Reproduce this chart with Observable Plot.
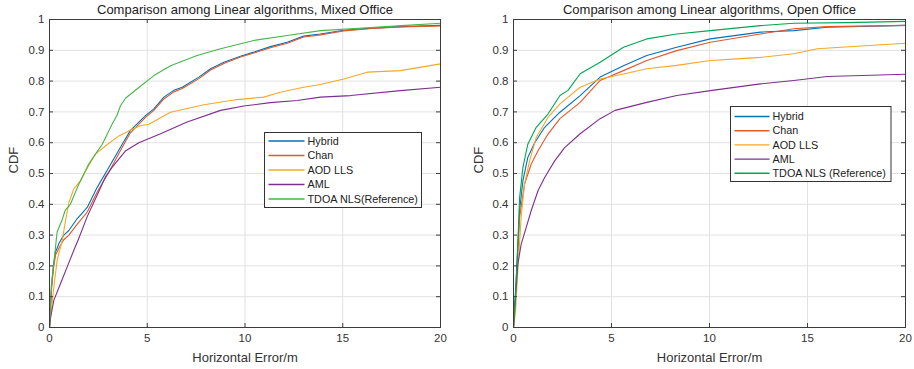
<!DOCTYPE html>
<html>
<head>
<meta charset="utf-8">
<script src="https://cdn.jsdelivr.net/npm/d3@7"></script>
<script src="https://cdn.jsdelivr.net/npm/@observablehq/plot@0.6"></script>
<style>
  html, body { margin: 0; padding: 0; background: #fff; }
  #wrap { display: flex; width: 914px; height: 369px; }
</style>
</head>
<body>
<div id="wrap"></div>
<script>
// ---------- tick values ----------
const xTicks = [0, 5, 10, 15, 20];
const yTicks = [0, 0.1, 0.2, 0.3, 0.4, 0.5, 0.6, 0.7, 0.8, 0.9, 1];

// ---------- Mixed Office (left) ----------
const mixedTitle = "Comparison among Linear algorithms, Mixed Office";
const mixedNames = ["Hybrid", "Chan", "AOD LLS", "AML", "TDOA NLS(Reference)"];

const mixedHybridX = [0, 0.1, 0.2, 0.31, 0.5, 0.73, 0.99, 1.41, 1.93, 2.44, 3.04, 3.72, 4.14, 4.91, 5.34, 5.85, 6.36, 6.79, 7.64, 8.24, 8.92, 9.77, 10.45, 11.3, 12.16, 13.0, 13.86, 15.05, 16.5, 18, 20];
const mixedHybridY = [0, 0.13, 0.2, 0.245, 0.275, 0.30, 0.315, 0.353, 0.39, 0.455, 0.52, 0.595, 0.64, 0.688, 0.71, 0.748, 0.77, 0.78, 0.813, 0.84, 0.861, 0.881, 0.894, 0.912, 0.926, 0.946, 0.953, 0.965, 0.972, 0.977, 0.981];
const mixedChanX = mixedHybridX;
const mixedChanY = [0, 0.12, 0.19, 0.235, 0.26, 0.285, 0.30, 0.335, 0.375, 0.44, 0.505, 0.585, 0.632, 0.682, 0.705, 0.742, 0.765, 0.776, 0.808, 0.836, 0.857, 0.878, 0.891, 0.908, 0.923, 0.943, 0.95, 0.963, 0.971, 0.976, 0.979];
const mixedAodX = [0, 0.1, 0.22, 0.39, 0.65, 0.82, 0.99, 1.24, 1.59, 2.0, 2.35, 2.87, 3.55, 4.23, 4.65, 5.08, 6.19, 7.9, 9.6, 10.96, 11.8, 13.0, 13.86, 15.05, 16.25, 17.95, 20];
const mixedAodY = [0, 0.06, 0.13, 0.218, 0.282, 0.347, 0.405, 0.45, 0.477, 0.525, 0.563, 0.59, 0.622, 0.644, 0.655, 0.66, 0.699, 0.723, 0.74, 0.748, 0.764, 0.78, 0.789, 0.807, 0.829, 0.834, 0.856];
const mixedAmlX = [0, 0.05, 0.22, 0.56, 0.9, 1.24, 1.5, 1.93, 2.44, 2.87, 3.2, 3.9, 4.57, 5.68, 7.04, 8.75, 9.94, 11.3, 12.67, 13.86, 15.4, 17.95, 20];
const mixedAmlY = [0, 0.03, 0.088, 0.142, 0.196, 0.25, 0.29, 0.36, 0.43, 0.49, 0.52, 0.574, 0.60, 0.629, 0.667, 0.705, 0.719, 0.73, 0.737, 0.748, 0.753, 0.769, 0.78];
const mixedNlsX = [0, 0.1, 0.22, 0.39, 0.65, 0.8, 1.07, 1.33, 1.5, 2.0, 2.35, 2.7, 3.2, 3.46, 3.63, 3.9, 4.49, 5.34, 6.19, 7.55, 8.75, 10.45, 12.16, 13.86, 16.25, 18, 20];
const mixedNlsY = [0, 0.14, 0.21, 0.31, 0.35, 0.38, 0.40, 0.44, 0.465, 0.53, 0.563, 0.595, 0.66, 0.69, 0.72, 0.745, 0.775, 0.818, 0.85, 0.883, 0.905, 0.932, 0.948, 0.964, 0.973, 0.98, 0.988];

// ---------- Open Office (right) ----------
const openTitle = "Comparison among Linear algorithms, Open Office";
const openNames = ["Hybrid", "Chan", "AOD LLS", "AML", "TDOA NLS (Reference)"];

const openHybridX = [0, 0.14, 0.31, 0.48, 0.73, 1.08, 1.59, 2.1, 2.37, 3.4, 4.42, 5.61, 6.8, 8.33, 10.04, 12.6, 14.3, 16, 20];
const openHybridY = [0, 0.16, 0.38, 0.476, 0.552, 0.6, 0.65, 0.682, 0.699, 0.753, 0.813, 0.85, 0.883, 0.91, 0.937, 0.959, 0.964, 0.975, 0.981];
const openChanX = [0, 0.14, 0.31, 0.56, 0.9, 1.25, 1.76, 2.37, 3.4, 4.42, 5.61, 6.8, 8.33, 10.04, 12.6, 14.3, 16, 20];
const openChanY = [0, 0.12, 0.357, 0.465, 0.53, 0.574, 0.628, 0.678, 0.731, 0.802, 0.834, 0.867, 0.899, 0.926, 0.953, 0.97, 0.977, 0.981];
const openAodX = [0, 0.1, 0.22, 0.39, 0.56, 0.82, 1.16, 1.76, 2.37, 3.4, 4.42, 5.61, 6.8, 8.33, 10.04, 11.4, 12.6, 14.3, 15.5, 20];
const openAodY = [0, 0.05, 0.184, 0.357, 0.465, 0.541, 0.617, 0.682, 0.726, 0.78, 0.807, 0.823, 0.84, 0.851, 0.867, 0.872, 0.877, 0.889, 0.905, 0.923];
const openAmlX = [0, 0.1, 0.22, 0.39, 0.65, 0.9, 1.25, 1.59, 2.1, 2.61, 3.4, 4.42, 5.18, 6.8, 8.33, 10.04, 12.6, 14.3, 16, 20];
const openAmlY = [0, 0.1, 0.206, 0.27, 0.325, 0.379, 0.444, 0.487, 0.541, 0.584, 0.629, 0.678, 0.705, 0.731, 0.753, 0.769, 0.791, 0.802, 0.815, 0.822];
const openNlsX = [0, 0.1, 0.22, 0.31, 0.48, 0.73, 1.16, 1.76, 2.37, 2.78, 3.4, 4.42, 5.61, 6.8, 8.33, 10.04, 12.6, 14.3, 17, 20];
const openNlsY = [0, 0.1, 0.27, 0.42, 0.52, 0.595, 0.65, 0.693, 0.753, 0.77, 0.824, 0.861, 0.91, 0.937, 0.953, 0.964, 0.98, 0.988, 0.99, 0.994];

const xLabel = "Horizontal Error/m";
const yLabel = "CDF";

const mixedColors = ["#0072BD", "#E4572B", "#F4A82A", "#7E2F8E", "#45B649"];
const openColors  = ["#0072BD", "#E4572B", "#F4A82A", "#7E2F8E", "#00A651"];

function makeSeries(names, colors, xs, ys) {
  return names.map((name, i) => ({
    name, color: colors[i],
    rows: xs[i].map((x, j) => ({x, y: ys[i][j]}))
  }));
}

function panel(cfg) {
  const W = 457, H = 369;
  const fw = W - cfg.ml - cfg.mr, fh = H - cfg.mt - cfg.mb;
  const ink = "#333";
  const plot = Plot.plot({
    width: W, height: H,
    marginLeft: cfg.ml, marginRight: cfg.mr, marginTop: cfg.mt, marginBottom: cfg.mb,
    style: {fontFamily: "'Liberation Sans', Arial, sans-serif", fontSize: "11.5px", color: ink, background: "#fff", overflow: "visible"},
    x: {domain: [0, 20]},
    y: {domain: [0, 1]},
    marks: [
      Plot.gridX(xTicks, {stroke: "#e2e2e2", strokeOpacity: 1, strokeWidth: 1}),
      Plot.gridY(yTicks, {stroke: "#e2e2e2", strokeOpacity: 1, strokeWidth: 1}),
      ...cfg.series.map(s => Plot.line(s.rows, {x: "x", y: "y", stroke: s.color, strokeWidth: 1.1})),
      Plot.frame({stroke: "#3c3c3c", strokeWidth: 1}),
      Plot.tickX(xTicks, {x: d => d, insetTop: fh - 4, stroke: "#3c3c3c"}),
      Plot.tickX(xTicks, {x: d => d, insetBottom: fh - 4, stroke: "#3c3c3c"}),
      Plot.tickY(yTicks, {y: d => d, insetRight: fw - 4, stroke: "#3c3c3c"}),
      Plot.tickY(yTicks, {y: d => d, insetLeft: fw - 4, stroke: "#3c3c3c"}),
      Plot.axisX(xTicks, {tickSize: 0, tickPadding: 6, label: null, fill: ink}),
      Plot.axisY(yTicks, {tickSize: 0, tickPadding: cfg.yPad, label: null, fill: ink,
        tickFormat: d => (d === 0 ? "0" : d === 1 ? "1" : d.toFixed(1))}),
      Plot.text([cfg.title], {frameAnchor: "top", dy: -10, text: d => d, fontSize: 13, fill: "#222", lineAnchor: "middle"}),
      Plot.text([xLabel], {frameAnchor: "bottom", dy: 30, text: d => d, fontSize: 13, fill: ink, lineAnchor: "middle"}),
      Plot.text([yLabel], {frameAnchor: "left", dx: cfg.ylDx, text: d => d, fontSize: 13, fill: ink, rotate: -90, lineAnchor: "middle"})
    ]
  });
  // legend box (inside axes, positioned in pixels)
  const L = cfg.legend;
  const g = d3.select(plot).append("g")
    .attr("font-family", "'Liberation Sans', Arial, sans-serif")
    .attr("font-size", 10.8)
    .attr("text-anchor", "start");
  g.append("rect").attr("x", L.x).attr("y", L.y).attr("width", L.w).attr("height", L.h)
    .attr("fill", "#fff").attr("stroke", "#333").attr("stroke-width", 1);
  cfg.series.forEach((s, i) => {
    const yy = L.y + L.first + i * L.step;
    g.append("line").attr("x1", L.x + 4).attr("x2", L.x + 4 + L.lineW).attr("y1", yy).attr("y2", yy)
      .attr("stroke", s.color).attr("stroke-width", 1.4);
    g.append("text").attr("x", L.x + 4 + L.lineW + 3).attr("y", yy).attr("dy", "0.35em")
      .attr("text-anchor", "start").attr("fill", "#222").text(s.name);
  });
  return plot;
}

const wrap = document.getElementById("wrap");
wrap.appendChild(panel({
  title: mixedTitle, ml: 49, mr: 17, mt: 19, mb: 42, yPad: 5, ylDx: -36,
  series: makeSeries(mixedNames, mixedColors,
    [mixedHybridX, mixedChanX, mixedAodX, mixedAmlX, mixedNlsX],
    [mixedHybridY, mixedChanY, mixedAodY, mixedAmlY, mixedNlsY]),
  legend: {x: 264.5, y: 132.5, w: 157, h: 75, first: 8.5, step: 14.5, lineW: 36}
}));
wrap.appendChild(panel({
  title: openTitle, ml: 56, mr: 9, mt: 19, mb: 42, yPad: 5, ylDx: -35,
  series: makeSeries(openNames, openColors,
    [openHybridX, openChanX, openAodX, openAmlX, openNlsX],
    [openHybridY, openChanY, openAodY, openAmlY, openNlsY]),
  legend: {x: 273.5, y: 106.5, w: 160.5, h: 75, first: 10, step: 14.2, lineW: 35}
}));
</script>
</body>
</html>
